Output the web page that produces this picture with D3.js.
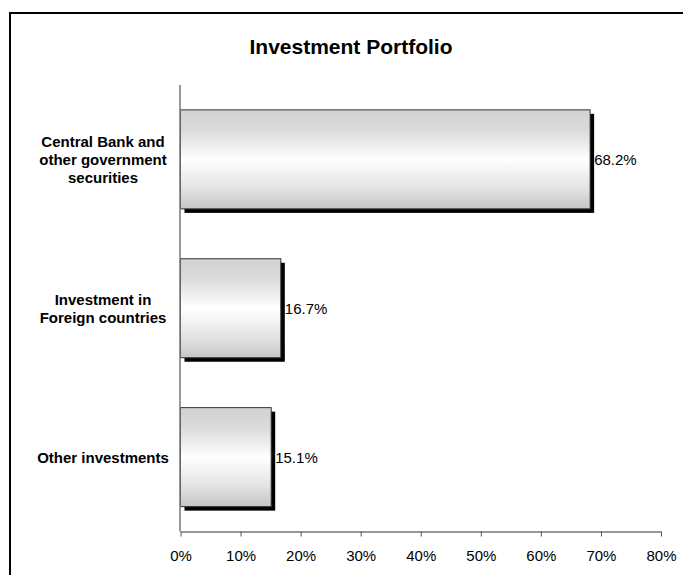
<!DOCTYPE html>
<html>
<head>
<meta charset="utf-8">
<script src="https://cdn.jsdelivr.net/npm/d3@7"></script>
<style>
  html, body { margin: 0; padding: 0; background: #fff; }
  svg { display: block; }
  text { font-family: "Liberation Sans", Arial, Helvetica, sans-serif; fill: #000; }
</style>
</head>
<body>
<svg id="chart" width="683" height="575"></svg>
<script>
// Portfolio breakdown (share of total investments)
const categories = [
  ["Central Bank and", "other government", "securities"],
  ["Investment in", "Foreign countries"],
  ["Other investments"]
];
const values = [68.2, 16.7, 15.1];
const tickValues = [0, 10, 20, 30, 40, 50, 60, 70, 80];
const title = "Investment Portfolio";

const svg = d3.select("#chart");
const W = 683, H = 575;

// outer frame (open on the right/bottom edges of the canvas)
svg.append("rect")
  .attr("x", 10).attr("y", 13)
  .attr("width", W + 20).attr("height", H + 20)
  .attr("fill", "#fff").attr("stroke", "#000").attr("stroke-width", 2);

const plot = { left: 180.5, right: 661, top: 85, bottom: 531.5 };

const x = d3.scaleLinear().domain([0, 80]).range([plot.left, plot.right]);
const y = d3.scaleBand()
  .domain(d3.range(values.length))
  .range([plot.top, plot.bottom])
  .paddingInner(0.335)
  .paddingOuter(0.167);

// bar gradient: grey edges, bright centre
const defs = svg.append("defs");
const grad = defs.append("linearGradient")
  .attr("id", "barFill").attr("x1", 0).attr("y1", 0).attr("x2", 0).attr("y2", 1);
[[0, "#d2d2d2"], [0.2, "#dadada"], [0.5, "#ffffff"], [0.8, "#e2e2e2"], [1, "#c6c6c6"]]
  .forEach(([o, c]) => grad.append("stop").attr("offset", o).attr("stop-color", c));

// title
svg.append("text")
  .attr("x", 351).attr("y", 54)
  .attr("text-anchor", "middle")
  .attr("font-size", 21).attr("font-weight", "bold")
  .text(title);

const bars = svg.append("g");

// drop shadows
bars.selectAll("rect.shadow")
  .data(values)
  .join("rect")
  .attr("class", "shadow")
  .attr("x", x(0) + 4)
  .attr("y", (d, i) => y(i) + 4)
  .attr("width", d => x(d) - x(0))
  .attr("height", y.bandwidth())
  .attr("fill", "#000");

// bars
bars.selectAll("rect.bar")
  .data(values)
  .join("rect")
  .attr("class", "bar")
  .attr("x", x(0))
  .attr("y", (d, i) => y(i))
  .attr("width", d => x(d) - x(0))
  .attr("height", y.bandwidth())
  .attr("fill", "url(#barFill)")
  .attr("stroke", "#333")
  .attr("stroke-width", 1);

// value labels
svg.selectAll("text.value")
  .data(values)
  .join("text")
  .attr("class", "value")
  .attr("x", d => x(d) + 4)
  .attr("y", (d, i) => y(i) + y.bandwidth() / 2 + 5.5)
  .attr("font-size", 15)
  .text(d => d.toFixed(1) + "%");

// category labels
const lineH = 18;
const catG = svg.selectAll("text.cat")
  .data(categories)
  .join("text")
  .attr("class", "cat")
  .attr("text-anchor", "middle")
  .attr("font-size", 15)
  .attr("font-weight", "bold");
catG.each(function (lines, i) {
  const cy = y(i) + y.bandwidth() / 2;
  const t = d3.select(this);
  lines.forEach((ln, k) => {
    t.append("tspan")
      .attr("x", 103)
      .attr("y", cy + (k - (lines.length - 1) / 2) * lineH + 5.4)
      .text(ln);
  });
});

// x axis
const xAxis = d3.axisBottom(x)
  .tickValues(tickValues)
  .tickSize(5)
  .tickSizeOuter(0)
  .tickFormat(d => d + "%");
const gx = svg.append("g")
  .attr("transform", `translate(0,${plot.bottom})`)
  .call(xAxis);
gx.select(".domain").attr("stroke", "#777").attr("stroke-width", 1.5);
gx.selectAll(".tick line").attr("stroke", "#555");
gx.selectAll(".tick text")
  .attr("font-size", 15)
  .attr("font-family", "Liberation Sans, Arial, sans-serif")
  .attr("fill", "#000")
  .attr("dy", null)
  .attr("y", 29.5);

// y axis line
svg.append("line")
  .attr("x1", plot.left - 0.5).attr("x2", plot.left - 0.5)
  .attr("y1", plot.top).attr("y2", plot.bottom)
  .attr("stroke", "#777").attr("stroke-width", 1.5);
</script>
</body>
</html>
